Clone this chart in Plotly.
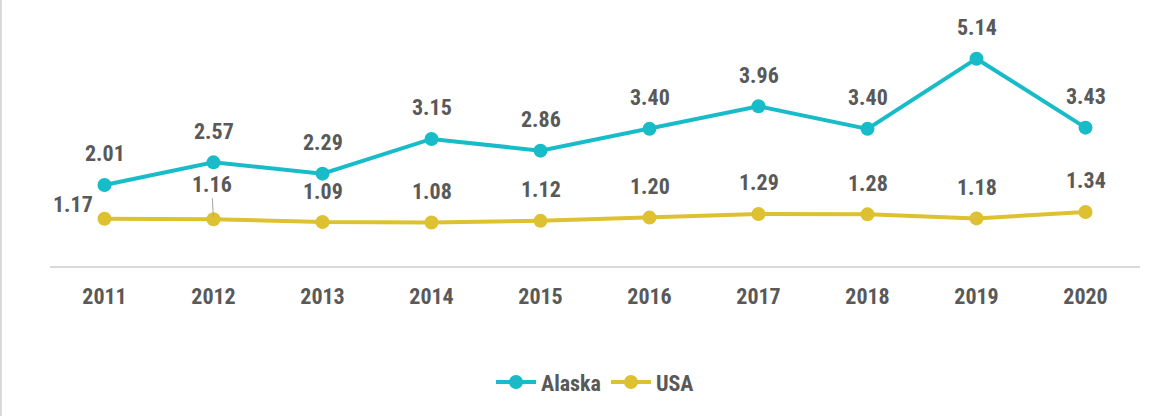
import plotly.graph_objects as go

years = ["2011", "2012", "2013", "2014", "2015", "2016", "2017", "2018", "2019", "2020"]
alaska = [2.01, 2.57, 2.29, 3.15, 2.86, 3.40, 3.96, 3.40, 5.14, 3.43]
usa = [1.17, 1.16, 1.09, 1.08, 1.12, 1.20, 1.29, 1.28, 1.18, 1.34]

TEAL = "#17BCC8"
GOLD = "#DDC130"
TXT = "#595959"
NUMFONT = "Roboto Condensed, Liberation Sans, sans-serif"
LEGFONT = "Roboto Condensed, DejaVu Sans Condensed, sans-serif"

fig = go.Figure()
fig.add_trace(go.Scatter(x=years, y=alaska, name="Alaska", mode="lines+markers",
                         line=dict(color=TEAL, width=4), marker=dict(size=14, color=TEAL)))
fig.add_trace(go.Scatter(x=years, y=usa, name="USA", mode="lines+markers",
                         line=dict(color=GOLD, width=4), marker=dict(size=14, color=GOLD)))

lab_font = dict(size=22, color=TXT, family=NUMFONT, weight="bold")
ann = []
for i, v in enumerate(alaska):
    ann.append(dict(x=i, y=v, text=f"{v:.2f}", showarrow=False, yshift=31, font=lab_font))
for i, v in enumerate(usa):
    if i == 0:
        ann.append(dict(x=i, y=v, text=f"{v:.2f}", showarrow=False, xshift=-32, yshift=14,
                        font=lab_font))
    elif i == 1:
        ann.append(dict(x=i, y=v, text=f"{v:.2f}", showarrow=True, ax=-2, ay=-35,
                        arrowhead=0, arrowwidth=1, arrowcolor="#A6A6A6", standoff=2,
                        font=lab_font))
    else:
        ann.append(dict(x=i, y=v, text=f"{v:.2f}", showarrow=False, yshift=31, font=lab_font))

fig.update_layout(
    width=1169, height=416,
    margin=dict(l=50, r=29, t=24, b=150),
    paper_bgcolor="white", plot_bgcolor="white",
    font=dict(family=NUMFONT, color=TXT),
    showlegend=True,
    legend=dict(orientation="h", x=0.5, xanchor="center", y=-0.48, yanchor="middle",
                font=dict(size=22, color=TXT, family=LEGFONT, weight="bold"), itemwidth=40),
    annotations=ann,
    xaxis=dict(type="category", range=[-0.5, 9.5], showgrid=False, showline=True,
               linecolor="#D9D9D9", linewidth=2,
               tickfont=dict(size=22, color=TXT, family=NUMFONT, weight="bold"),
               ticklabelstandoff=10, zeroline=False),
    yaxis=dict(range=[0, 6], visible=False, showgrid=False, zeroline=False),
    shapes=[dict(type="line", xref="paper", yref="paper", x0=-49/1090, x1=-49/1090,
                 y0=-150/242, y1=1 + 24/242, line=dict(color="#D9D9D9", width=2))],
)

fig.write_html("out.html", config={"displayModeBar": False},
               post_script="document.body.style.margin='0';document.body.style.padding='0';")
